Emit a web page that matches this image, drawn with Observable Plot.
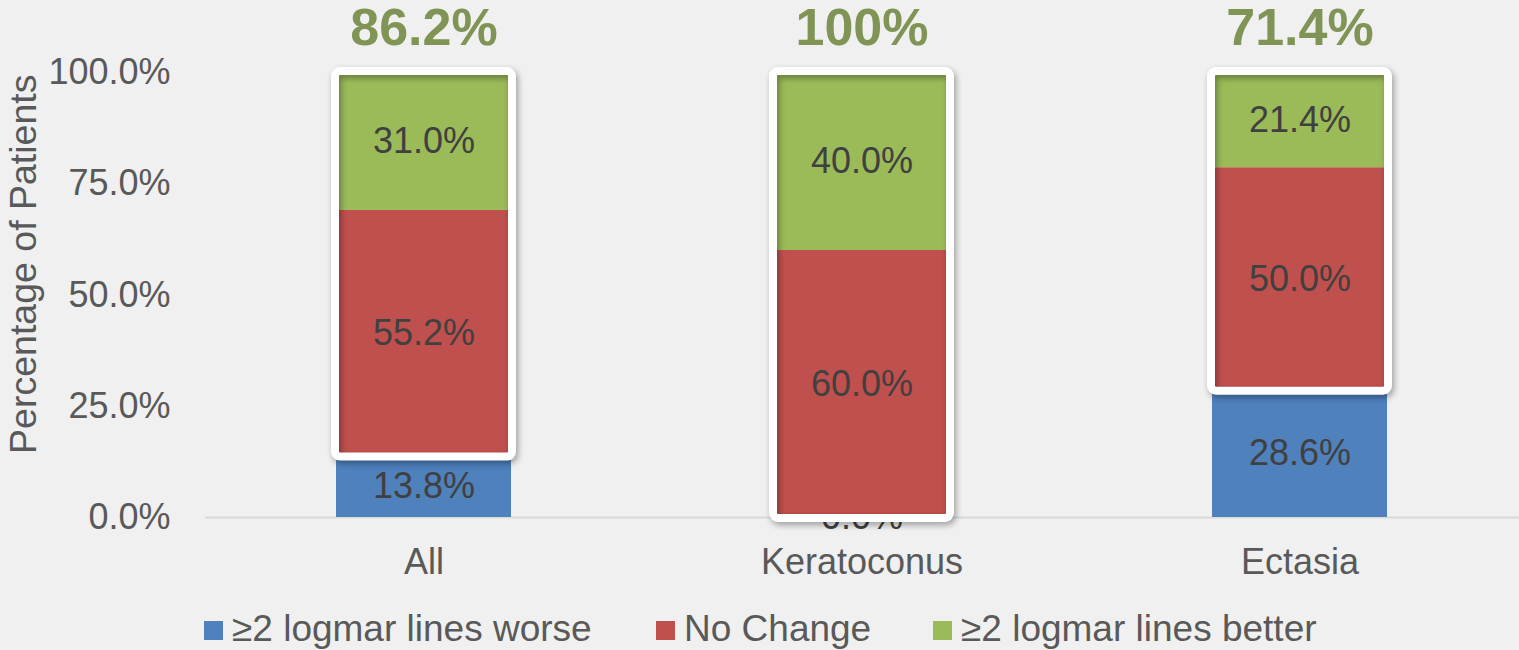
<!DOCTYPE html>
<html>
<head>
<meta charset="utf-8">
<script src="https://cdn.jsdelivr.net/npm/d3@7"></script>
<script src="https://cdn.jsdelivr.net/npm/@observablehq/plot@0.6"></script>
<style>
  html, body { margin: 0; padding: 0; background: #eff0ef; }
  body { width: 1519px; height: 650px; overflow: hidden; font-family: "Liberation Sans", Arial, sans-serif; }
  #legend { position: relative; height: 60px; font-size: 37px; color: #595959; }
  .item { position: absolute; top: 0; display: flex; align-items: center; height: 77px; white-space: nowrap; }
  .sw { width: 19px; height: 19px; margin-right: 9px; margin-top: 4px; }
</style>
</head>
<body>
<div id="chart"></div>
<div id="legend"></div>
<script>
const categories = ["All", "Keratoconus", "Ectasia"];
const seriesNames = ["≥2 logmar lines worse", "No Change", "≥2 logmar lines better"];
const worse = [13.8, 0.0, 28.6];
const noChange = [55.2, 60.0, 50.0];
const better = [31.0, 40.0, 21.4];
const stableOrBetter = [86.2, 100, 71.4];
const yTicks = [0, 25, 50, 75, 100];
const colors = ["#4f81bd", "#c0504d", "#9bbb59"];

const seriesValues = [worse, noChange, better];
const rows = categories.flatMap((c, i) => {
  let base = 0;
  return seriesNames.map((s, j) => {
    const v = seriesValues[j][i];
    const r = {category: c, series: s, value: v, y1: base, y2: base + v};
    base += v;
    return r;
  });
});
const bottomRows = rows.filter(d => d.series === seriesNames[0]);
const upperRows = rows.filter(d => d.series !== seriesNames[0]);
const outlines = categories.map((c, i) => ({category: c, y1: worse[i], y2: worse[i] + noChange[i] + better[i]}));
const tops = categories.map((c, i) => ({category: c, y: worse[i] + noChange[i] + better[i], v: stableOrBetter[i]}));
const fmtPct = v => v.toFixed(1) + "%";
const fmtTop = v => (Number.isInteger(v) ? String(v) : v.toFixed(1)) + "%";

const chart = Plot.plot({
  width: 1519,
  height: 590,
  marginTop: 72,
  marginBottom: 73,
  marginLeft: 205,
  marginRight: 0,
  style: {fontSize: "36px", fontFamily: "'Liberation Sans', Arial, sans-serif", color: "#595959", background: "transparent", overflow: "visible"},
  x: {domain: categories, paddingInner: 0.6, paddingOuter: 0.3, tickSize: 0, tickPadding: 31, label: null},
  y: {domain: [0, 100], ticks: yTicks, tickFormat: fmtPct, tickSize: 0, tickPadding: 35, label: null},
  color: {domain: seriesNames, range: colors},
  marks: [
    Plot.ruleY([0], {stroke: "#d9d9d9", strokeWidth: 2}),
    Plot.barY(bottomRows, {x: "category", y1: "y1", y2: "y2", fill: "series"}),
    Plot.text(bottomRows, {x: "category", y: d => (d.y1 + d.y2) / 2, text: d => fmtPct(d.value), fontSize: 36, fill: "#404040"}),
    Plot.barY(upperRows, {x: "category", y1: "y1", y2: "y2", fill: "series"}),
    Plot.text(upperRows, {x: "category", y: d => (d.y1 + d.y2) / 2, text: d => fmtPct(d.value), fontSize: 36, fill: "#404040"}),
    Plot.barY(outlines, {x: "category", y1: "y1", y2: "y2", fill: "none", stroke: "white", strokeWidth: 8, rx: 5, inset: -1, imageFilter: "drop-shadow(2px 3px 3px rgba(0,0,0,0.35))"}),
    Plot.text(tops, {x: "category", y: "y", text: d => fmtTop(d.v), dy: -44, fontSize: 52, fontWeight: "bold", fill: "#7f9455"}),
    Plot.text(["Percentage of Patients"], {frameAnchor: "top-left", text: d => d, rotate: -90, textAnchor: "end", lineAnchor: "middle", dx: -182, dy: 2, fontSize: 37.5, fill: "#595959"})
  ]
});
document.getElementById("chart").appendChild(chart);

const legendPos = [204, 656, 933];
const legend = document.getElementById("legend");
seriesNames.forEach((s, i) => {
  const item = document.createElement("div");
  item.className = "item";
  item.style.left = legendPos[i] + "px";
  const sw = document.createElement("div");
  sw.className = "sw";
  sw.style.background = colors[i];
  const t = document.createElement("span");
  t.textContent = s;
  item.appendChild(sw);
  item.appendChild(t);
  legend.appendChild(item);
});
</script>
</body>
</html>
